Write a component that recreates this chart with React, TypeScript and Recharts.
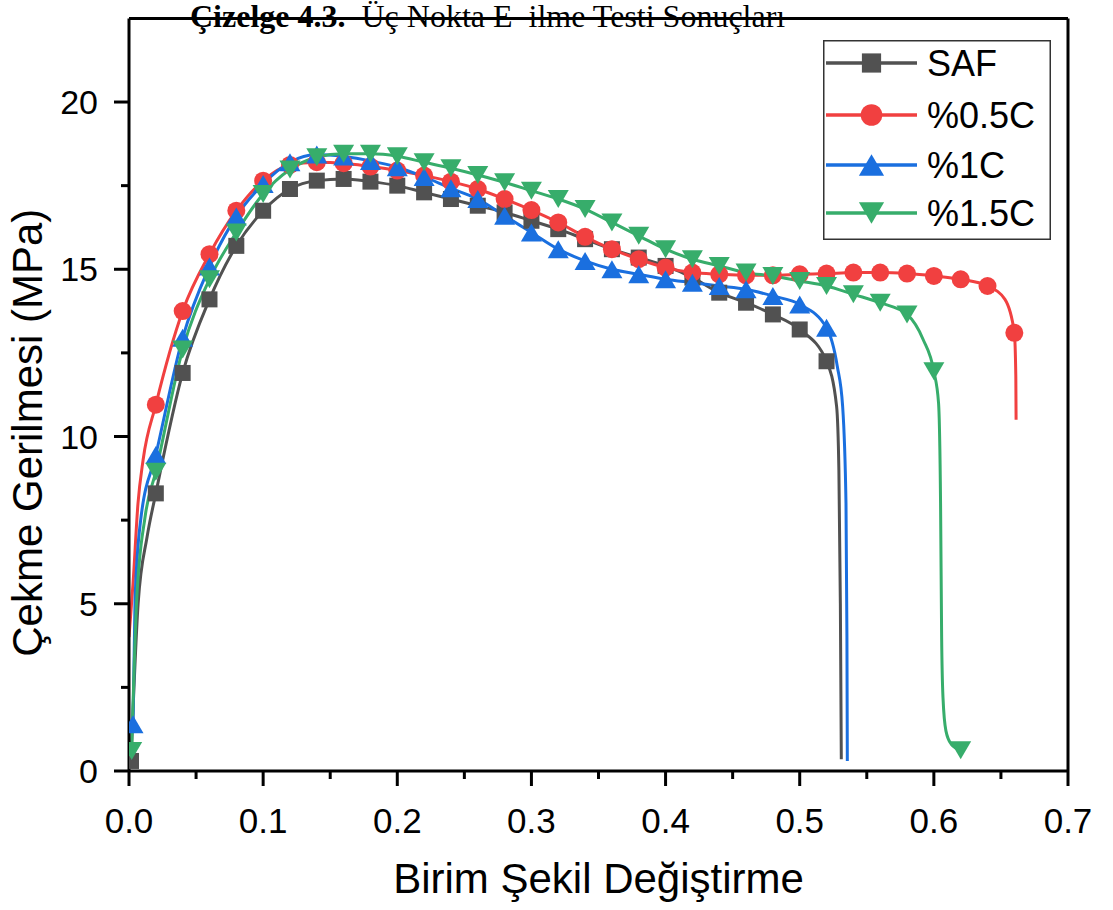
import React from 'react';
import { LineChart, Line, XAxis, YAxis, Legend, ReferenceLine } from 'recharts';

// ---------- data ----------
const seriesNames = ['SAF', '%0.5C', '%1C', '%1.5C'];
const seriesColors = ['#515151', '#F14040', '#1A6FDF', '#37AD6B'];

// marker points (every 0.02 strain)
const safStrain = [0.0015, 0.02, 0.04, 0.06, 0.08, 0.10, 0.12, 0.14, 0.16, 0.18, 0.20, 0.22, 0.24, 0.26, 0.28, 0.30, 0.32, 0.34, 0.36, 0.38, 0.40, 0.42, 0.44, 0.46, 0.48, 0.50, 0.52];
const safStress = [0.3, 8.3, 11.9, 14.1, 15.7, 16.75, 17.4, 17.65, 17.7, 17.62, 17.5, 17.3, 17.1, 16.9, 16.7, 16.45, 16.2, 15.9, 15.6, 15.35, 15.1, 14.75, 14.3, 14.0, 13.65, 13.2, 12.25];
// curve-only points (no marker)
const safCurveStrain = [0.0068, 0.0135, 0.5275, 0.5292, 0.5303, 0.531];
const safCurveStress = [5.0, 7.0, 10.9, 9.0, 5.0, 0.35];

const c05Strain = [0.02, 0.04, 0.06, 0.08, 0.10, 0.12, 0.14, 0.16, 0.18, 0.20, 0.22, 0.24, 0.26, 0.28, 0.30, 0.32, 0.34, 0.36, 0.38, 0.40, 0.42, 0.44, 0.46, 0.48, 0.50, 0.52, 0.54, 0.56, 0.58, 0.60, 0.62, 0.64, 0.66];
const c05Stress = [10.95, 13.75, 15.45, 16.75, 17.65, 18.12, 18.2, 18.17, 18.07, 17.95, 17.8, 17.62, 17.4, 17.1, 16.77, 16.4, 15.97, 15.6, 15.3, 15.05, 14.9, 14.85, 14.82, 14.82, 14.85, 14.87, 14.9, 14.9, 14.87, 14.8, 14.7, 14.5, 13.1];
const c05CurveStrain = [0.0, 0.003, 0.0067, 0.0105, 0.653, 0.6611, 0.6613];
const c05CurveStress = [4.0, 5.6, 8.0, 9.3, 14.1, 11.8, 10.5];

const c1Strain = [0.003, 0.02, 0.04, 0.06, 0.08, 0.10, 0.12, 0.14, 0.16, 0.18, 0.20, 0.22, 0.24, 0.26, 0.28, 0.30, 0.32, 0.34, 0.36, 0.38, 0.40, 0.42, 0.44, 0.46, 0.48, 0.50, 0.52];
const c1Stress = [1.4, 9.45, 12.95, 15.08, 16.58, 17.55, 18.2, 18.43, 18.37, 18.24, 18.05, 17.76, 17.42, 17.1, 16.6, 16.1, 15.6, 15.25, 15.0, 14.85, 14.7, 14.6, 14.5, 14.4, 14.2, 13.95, 13.25];
const c1CurveStrain = [0.0045, 0.0087, 0.528, 0.532, 0.5345, 0.5352, 0.5355];
const c1CurveStress = [5.1, 7.5, 12.1, 10.9, 8.0, 4.0, 0.3];

const c15Strain = [0.002, 0.02, 0.04, 0.06, 0.08, 0.10, 0.12, 0.14, 0.16, 0.18, 0.20, 0.22, 0.24, 0.26, 0.28, 0.30, 0.32, 0.34, 0.36, 0.38, 0.40, 0.42, 0.44, 0.46, 0.48, 0.50, 0.52, 0.54, 0.56, 0.58, 0.60, 0.62];
const c15Stress = [0.6, 8.95, 12.6, 14.7, 16.1, 17.25, 17.98, 18.35, 18.45, 18.45, 18.38, 18.2, 18.02, 17.82, 17.6, 17.35, 17.1, 16.8, 16.4, 16.0, 15.6, 15.3, 15.1, 14.9, 14.8, 14.65, 14.5, 14.25, 14.0, 13.65, 11.95, 0.62];
const c15CurveStrain = [0.0057, 0.012, 0.592, 0.6035, 0.605, 0.6058, 0.6068, 0.609, 0.613];
const c15CurveStress = [5.1, 7.6, 12.9, 11.0, 8.0, 4.0, 2.2, 1.2, 0.8];

const xTicks = [0, 0.05, 0.1, 0.15, 0.2, 0.25, 0.3, 0.35, 0.4, 0.45, 0.5, 0.55, 0.6, 0.65, 0.7];
const yTicks = [0, 2.5, 5, 7.5, 10, 12.5, 15, 17.5, 20];
const xMax = 0.7;
const yMax = 22.5;

const titleBold = 'Çizelge 4.3.';
const titleRest = '  Üç Nokta E  ilme Testi Sonuçları';
const xTitle = 'Birim Şekil Değiştirme';
const yTitle = 'Çekme Gerilmesi (MPa)';

// ---------- helpers ----------
type Pt = { strain: number; stress: number; m: boolean };
function build(mx: number[], my: number[], cx: number[], cy: number[]): Pt[] {
  const pts: Pt[] = mx.map((x, i) => ({ strain: x, stress: my[i], m: true }))
    .concat(cx.map((x, i) => ({ strain: x, stress: cy[i], m: false })));
  return pts.sort((a, b) => a.strain - b.strain);
}

const dataSets = [
  build(safStrain, safStress, safCurveStrain, safCurveStress),
  build(c05Strain, c05Stress, c05CurveStrain, c05CurveStress),
  build(c1Strain, c1Stress, c1CurveStrain, c1CurveStress),
  build(c15Strain, c15Stress, c15CurveStrain, c15CurveStress),
];

const SANS = "'Liberation Sans', Arial, sans-serif";

function markerShape(kind: number, cx: number, cy: number, color: string, scale = 1) {
  if (kind === 0) {
    const s = 16 * scale;
    return <rect x={cx - s / 2} y={cy - s / 2} width={s} height={s} fill={color} />;
  }
  if (kind === 1) {
    return <circle cx={cx} cy={cy} r={9 * scale} fill={color} />;
  }
  const hw = 10.5 * scale;
  const hh = 9 * scale;
  if (kind === 2) {
    return <polygon points={`${cx},${cy - hh} ${cx - hw},${cy + hh} ${cx + hw},${cy + hh}`} fill={color} />;
  }
  return <polygon points={`${cx},${cy + hh} ${cx - hw},${cy - hh} ${cx + hw},${cy - hh}`} fill={color} />;
}

const makeDot = (kind: number, color: string) => (props: any) => {
  const { cx, cy, payload, index } = props;
  if (!payload || !payload.m || cx == null || cy == null) return <g key={`n-${kind}-${index}`} />;
  return <g key={`d-${kind}-${index}`}>{markerShape(kind, cx, cy, color)}</g>;
};

const XTick = (props: any) => {
  const { x, y, payload } = props;
  const v = payload.value as number;
  const major = Math.abs(v * 10 - Math.round(v * 10)) < 1e-6;
  return (
    <g>
      <line x1={x} x2={x} y1={y} y2={y + (major ? 15 : 8)} stroke="#000" strokeWidth={3} />
      {major && (
        <text x={x} y={y + 37} dy="0.71em" textAnchor="middle" fontSize={35} fontFamily={SANS} fill="#000">
          {v.toFixed(1)}
        </text>
      )}
    </g>
  );
};

const YTick = (props: any) => {
  const { x, y, payload } = props;
  const v = payload.value as number;
  const major = Math.abs(v / 5 - Math.round(v / 5)) < 1e-6;
  return (
    <g>
      <line x1={x} x2={x - (major ? 15 : 8)} y1={y} y2={y} stroke="#000" strokeWidth={3} />
      {major && (
        <text x={x - 31} y={y} dy="0.355em" textAnchor="end" fontSize={34} fontFamily={SANS} fill="#000">
          {String(v)}
        </text>
      )}
    </g>
  );
};

const XTitle = (props: any) => {
  const vb = props.viewBox || { x: 129, y: 771, width: 939, height: 139 };
  return (
    <text x={vb.x + vb.width / 2} y={vb.y + 122} textAnchor="middle" fontSize={42} fontFamily={SANS} fill="#000">
      {xTitle}
    </text>
  );
};

const YTitle = (props: any) => {
  const vb = props.viewBox || { x: 0, y: 18, width: 129, height: 753 };
  const tx = vb.x + 42;
  const ty = vb.y + vb.height / 2 + 38;
  return (
    <text x={tx} y={ty} transform={`rotate(-90, ${tx}, ${ty})`} textAnchor="middle" fontSize={42} fontFamily={SANS} fill="#000">
      {yTitle}
    </text>
  );
};

const LegendBox = () => {
  const rows = [23, 75, 125, 173];
  return (
    <svg width={228} height={200} style={{ display: 'block' }}>
      <rect x={0.75} y={0.75} width={226.5} height={198.5} fill="#fff" stroke="#333" strokeWidth={1.5} />
      {seriesNames.map((name, i) => (
        <g key={name}>
          <line x1={3} x2={94} y1={rows[i]} y2={rows[i]} stroke={seriesColors[i]} strokeWidth={3.5} />
          {markerShape(i, 48.5, rows[i], seriesColors[i], 1.2)}
          <text x={104} y={rows[i]} dy="0.36em" fontSize={36} fontFamily={SANS} fill="#000">
            {name}
          </text>
        </g>
      ))}
    </svg>
  );
};

export default function App() {
  return (
    <div style={{ position: 'absolute', left: 0, top: 0, width: 1113, height: 910, background: '#fff' }}>
      <div style={{ position: 'absolute', left: 0, top: 0, width: 1113, height: 48 }}>
        <svg width={1113} height={48}>
          <text x={190} y={27} fontSize={32} fontFamily="'Liberation Serif', 'Times New Roman', serif" fill="#000" style={{ whiteSpace: 'pre' }}>
            <tspan fontWeight="bold">{titleBold}</tspan>
            <tspan>{titleRest}</tspan>
          </text>
        </svg>
      </div>
      <LineChart width={1113} height={910} margin={{ top: 18.4, right: 45, bottom: 0, left: 0 }}>
        <XAxis
          dataKey="strain"
          type="number"
          domain={[0, xMax]}
          ticks={xTicks}
          interval={0}
          height={139}
          tickSize={0}
          tickMargin={0}
          tickLine={false}
          axisLine={{ stroke: '#000', strokeWidth: 3 }}
          tick={<XTick />}
          allowDataOverflow
          label={{ content: (p: any) => <XTitle {...p} /> }}
        />
        <YAxis
          type="number"
          domain={[0, yMax]}
          ticks={yTicks}
          interval={0}
          width={129}
          tickSize={0}
          tickMargin={0}
          tickLine={false}
          axisLine={{ stroke: '#000', strokeWidth: 3 }}
          tick={<YTick />}
          allowDataOverflow
          label={{ content: (p: any) => <YTitle {...p} /> }}
        />
        <ReferenceLine y={yMax} stroke="#000" strokeWidth={3} ifOverflow="visible" />
        <ReferenceLine x={xMax} stroke="#000" strokeWidth={3} ifOverflow="visible" />
        {dataSets.map((d, i) => (
          <Line
            key={seriesNames[i]}
            name={seriesNames[i]}
            data={d}
            dataKey="stress"
            type="monotone"
            stroke={seriesColors[i]}
            strokeWidth={3}
            dot={makeDot(i, seriesColors[i])}
            activeDot={false}
            isAnimationActive={false}
          />
        ))}
        <Legend
          verticalAlign="middle"
          align="center"
          layout="horizontal"
          wrapperStyle={{ position: 'absolute', left: 823, top: 40, width: 228, height: 200 }}
          content={() => <LegendBox />}
        />
      </LineChart>
    </div>
  );
}
